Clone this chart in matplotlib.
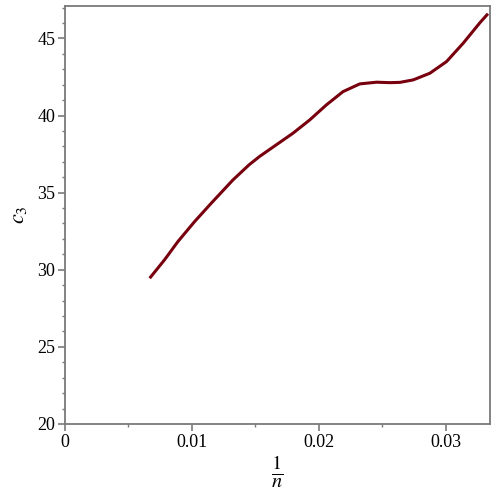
import matplotlib
matplotlib.use('Agg')
import matplotlib.pyplot as plt
from matplotlib.ticker import MultipleLocator

# values (x = 1/n, y = c_3)
inv_n = [0.00667, 0.00784, 0.00889, 0.01021, 0.01152, 0.01323, 0.01450,
         0.01534, 0.01665, 0.01796, 0.01928, 0.02060, 0.02191, 0.02323,
         0.02455, 0.02560, 0.02640, 0.02744, 0.02875, 0.03007, 0.03138,
         0.03270, 0.03333]
c3 = [29.45, 30.64, 31.82, 33.12, 34.31, 35.82, 36.80,
      37.35, 38.10, 38.85, 39.71, 40.69, 41.55, 42.05,
      42.16, 42.13, 42.15, 42.31, 42.74, 43.50, 44.69,
      46.02, 46.6]

x_ticks = [0, 0.01, 0.02, 0.03]
x_tick_labels = ['0', '0.01', '0.02', '0.03']
y_ticks = [20, 25, 30, 35, 40, 45]

plt.rcParams['font.family'] = ['Liberation Serif', 'DejaVu Serif']
plt.rcParams['mathtext.fontset'] = 'stix'

fig = plt.figure(figsize=(5, 5), dpi=100)
ax = fig.add_axes([0.13, 0.152, 0.85, 0.836])

ax.plot(inv_n, c3, color='#78000e', lw=2.2, solid_joinstyle='round',
        solid_capstyle='butt')

ax.set_xlim(0, 0.03349)
ax.set_ylim(20, 47.1)
ax.set_xticks(x_ticks)
ax.set_xticklabels(x_tick_labels)
ax.set_yticks(y_ticks)
ax.xaxis.set_minor_locator(MultipleLocator(0.005))
ax.yaxis.set_minor_locator(MultipleLocator(1))

gray = '#7a7a7a'
for s in ax.spines.values():
    s.set_color(gray)
    s.set_linewidth(1.3)
ax.tick_params(which='major', direction='out', length=5, width=1.2,
               color=gray, labelsize=13, labelcolor='black', pad=2)
ax.tick_params(which='minor', direction='out', length=2.5, width=1.0,
               color=gray)

ax.set_xlabel(r'$\frac{1}{n}$', fontsize=21, labelpad=2)
ax.set_ylabel(r'$c_3$', fontsize=16, labelpad=6)

fig.savefig('out.png', dpi=100)
